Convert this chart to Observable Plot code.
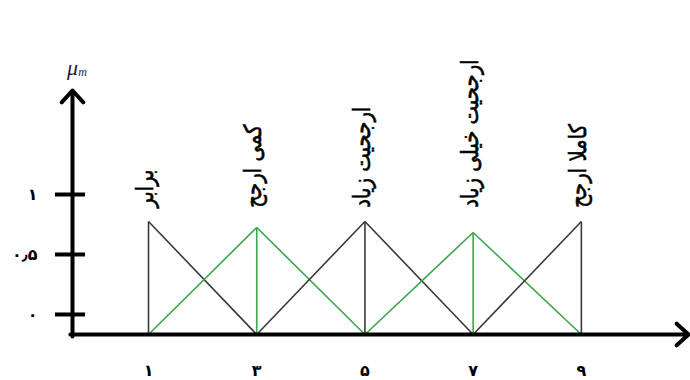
<!DOCTYPE html>
<html>
<head>
<meta charset="utf-8">
<script src="https://cdn.jsdelivr.net/npm/d3@7"></script>
<script src="https://cdn.jsdelivr.net/npm/@observablehq/plot@0.6"></script>
<style>
  html, body { margin: 0; padding: 0; background: #fff; }
  #chart svg { display: block; font-family: "DejaVu Sans", sans-serif; }
</style>
</head>
<body>
<div id="chart"></div>
<script>
// Triangular fuzzy numbers (peaks on the x axis)
const peaks = [1, 3, 5, 7, 9];
const termLabels = ["برابر", "کمی ارجح", "ارجحیت زیاد", "ارجحیت خیلی زیاد", "کاملا ارجح"];
const xTickLabels = ["۱", "۳", "۵", "۷", "۹"];
const yTicks = [0, 0.5, 1];
const yTickLabels = ["۰", "۰٫۵", "۱"];
// peak heights as drawn (read in units of the y ticks)
const peakHeights = [0.775, 0.725, 0.775, 0.683, 0.775];
// feet of the triangles sit on the drawn x-axis line
const footLevel = -0.167;
const seriesColors = ["#3a3a3a", "#3aa64a", "#3a3a3a", "#3aa64a", "#3a3a3a"];

// segments of each triangle
const segments = [];
peaks.forEach((p, i) => {
  const h = peakHeights[i], c = seriesColors[i];
  segments.push({x1: p, y1: footLevel, x2: p, y2: h, c});
  if (i > 0) segments.push({x1: p - 2, y1: footLevel, x2: p, y2: h, c});
  if (i < peaks.length - 1) segments.push({x1: p, y1: h, x2: p + 2, y2: footLevel, c});
});

const xMin = -0.405, xMax = 10.98, yMin = -0.167, yMax = 1.867;

const chart = Plot.plot({
  width: 690,
  height: 380,
  marginLeft: 72,
  marginRight: 2,
  marginTop: 90,
  marginBottom: 46,
  x: {domain: [xMin, xMax], axis: null},
  y: {domain: [yMin, yMax], axis: null},
  marks: [
    Plot.link(segments, {x1: "x1", y1: "y1", x2: "x2", y2: "y2", stroke: "c", strokeWidth: 1.6}),
    // axes with arrowheads
    Plot.arrow([{x1: xMin - 0.04, y1: yMin, x2: xMax, y2: yMin}], {x1: "x1", y1: "y1", x2: "x2", y2: "y2", stroke: "black", strokeWidth: 4, headLength: 6, headAngle: 85}),
    Plot.arrow([{x1: xMin, y1: yMin - 0.017, x2: xMin, y2: yMax}], {x1: "x1", y1: "y1", x2: "x2", y2: "y2", stroke: "black", strokeWidth: 4, headLength: 6, headAngle: 85}),
    // y ticks
    Plot.ruleY(yTicks, {y: d => d, x1: -0.72, x2: -0.165, stroke: "black", strokeWidth: 4}),
    Plot.text(yTicks, {x: xMin, y: d => d, text: (d, i) => yTickLabels[i], dx: -35, textAnchor: "end", fontSize: 16, fontWeight: "bold", fill: "black"}),
    // x tick labels
    Plot.text(peaks, {x: d => d, y: yMin, text: (d, i) => xTickLabels[i], dy: 36, fontSize: 16, fontWeight: "bold", fill: "black"}),
    // rotated term labels
    Plot.text(peaks, {x: d => d, y: 0.89, text: (d, i) => termLabels[i], rotate: -90, textAnchor: "start", dx: -3, fontSize: 24, fill: "black", stroke: "black", strokeWidth: 0.6, className: "terms"}),
    // mu_m
    Plot.text(["μ"], {x: xMin, y: yMax, text: d => d, dy: -23, dx: 0, fontSize: 22, fontStyle: "italic", fontFamily: "Liberation Serif", fill: "#1a1a40"}),
    Plot.text(["m"], {x: xMin, y: yMax, text: d => d, dy: -18, dx: 10, fontSize: 12, fontStyle: "italic", fontFamily: "Liberation Serif", fill: "#1a1a40"})
  ]
});
// compress the rotated labels along their length
d3.select(chart).selectAll(".terms text").attr("transform", function () {
  return (this.getAttribute("transform") || "") + " scale(0.82,1)";
});
document.getElementById("chart").appendChild(chart);
</script>
</body>
</html>
